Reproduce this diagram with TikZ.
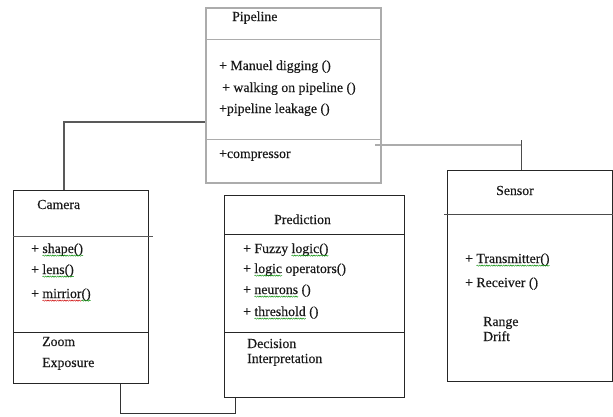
\documentclass[tikz,border=0pt]{standalone}
\usepackage{fontspec}
\setmainfont{Liberation Serif}[FakeBold=0.35]
\usetikzlibrary{decorations.pathmorphing}
\newsavebox\sqbox
\newlength\sqw
\newcommand{\sq}[2]{\begingroup\sbox\sqbox{#2}\setlength\sqw{\wd\sqbox}\rlap{\usebox\sqbox}\tikz[baseline=0pt,x=1pt,y=1pt]{\useasboundingbox (0,0) rectangle (\sqw,0);\draw[draw=#1,line width=0.45pt,decorate,decoration={snake,amplitude=0.6pt,segment length=2.4pt}] (0,-2.6) -- (\sqw,-2.6);}\endgroup}
\colorlet{sqg}{green!55!black}
\colorlet{sqr}{red!80!black}
\begin{document}
\begin{tikzpicture}[x=1pt,y=-1pt,
  box/.style={draw=black!85,line width=0.9pt,rectangle,inner sep=0pt,anchor=north west},
  pbox/.style={draw=gray!65,line width=2pt,rectangle,inner sep=0pt,anchor=north west},
  txt/.style={anchor=base west,inner sep=0pt,font=\fontsize{13.8}{16}\selectfont,text=black!90},
  div/.style={draw=black!85,line width=0.9pt},
  conn/.style={draw=black!80,line width=0.9pt}]
\useasboundingbox (0,0) rectangle (613,416);
% boxes
\node[pbox,minimum width=175pt,minimum height=175pt] (pipe) at (205,7) {};
\node[box,minimum width=135pt,minimum height=193pt] (cam) at (13,190) {};
\node[box,minimum width=180pt,minimum height=202pt] (pred) at (224,195) {};
\node[box,minimum width=165pt,minimum height=211pt] (sens) at (447,170) {};
% dividers
\draw[draw=gray!65,line width=1pt] (pipe.north west |- 0,39) -- (pipe.north east |- 0,39);
\draw[draw=gray!65,line width=1pt] (pipe.north west |- 0,139) -- (pipe.north east |- 0,139);
\draw[div,draw=black!65] (cam.north west |- 0,236) -- (153,236);
\draw[div] (cam.north west |- 0,332) -- (cam.north east |- 0,332);
\draw[div] (pred.north west |- 0,234) -- (pred.north east |- 0,234);
\draw[div] (pred.north west |- 0,332) -- (pred.north east |- 0,332);
\draw[div,draw=black!70] (444,214) -- (sens.north east |- 0,214);
% texts
\node[txt] (t1) at (232,21) {Pipeline};
\node[txt] (t2) at (219,70) {+ Manuel digging ()};
\node[txt] (t3) at (222,92) {+ walking on pipeline ()};
\node[txt] (t4) at (219,113) {+pipeline leakage ()};
\node[txt] (t5) at (219,158) {+compressor};
\node[txt] (c1) at (37,209) {Camera};
\node[txt] (c2) at (31,253) {+ \sq{sqg}{shape()}};
\node[txt] (c3) at (31,274) {+ \sq{sqg}{lens()}};
\node[txt] (c4) at (31,298) {+ \sq{sqr}{mirrior}\sq{sqg}{()}};
\node[txt] (c5) at (42,346) {Zoom};
\node[txt] (c6) at (42,367) {Exposure};
\node[txt] (p1) at (274,224) {Prediction};
\node[txt] (p2) at (243,253) {+ Fuzzy \sq{sqg}{logic()}};
\node[txt] (p3) at (243,273) {+ \sq{sqg}{logic} operators()};
\node[txt] (p4) at (243,294) {+ \sq{sqg}{neurons} ()};
\node[txt] (p5) at (243,316) {+ \sq{sqg}{threshold} ()};
\node[txt] (p6) at (247,348) {Decision};
\node[txt] (p7) at (247,363) {Interpretation};
\node[txt] (s1) at (496,195) {Sensor};
\node[txt] (s2) at (465,263) {+ \sq{sqg}{Transmitter()}};
\node[txt] (s3) at (465,287) {+ Receiver ()};
\node[txt] (s4) at (483,326) {Range};
\node[txt] (s5) at (483,341) {Drift};
% connectors
\coordinate (j1) at (64,122);
\draw[conn,draw=black!65,line width=1.1pt] (j1 -| pipe.west) -- (j1) -- (j1 |- cam.north);
\coordinate (j2) at (120,413);
\coordinate (j3) at (235,413);
\draw[conn] (j2 |- cam.south) -- (j2) -- (j3) -- (j3 |- pred.south);
\coordinate (j4) at (521,145);
\draw[draw=gray!65,line width=1.1pt] ([xshift=-7pt]j4 -| pipe.east) -- (j4);
\draw[conn,draw=black!70] ([yshift=5pt]j4) -- (j4 |- sens.north);
\end{tikzpicture}
\end{document}
